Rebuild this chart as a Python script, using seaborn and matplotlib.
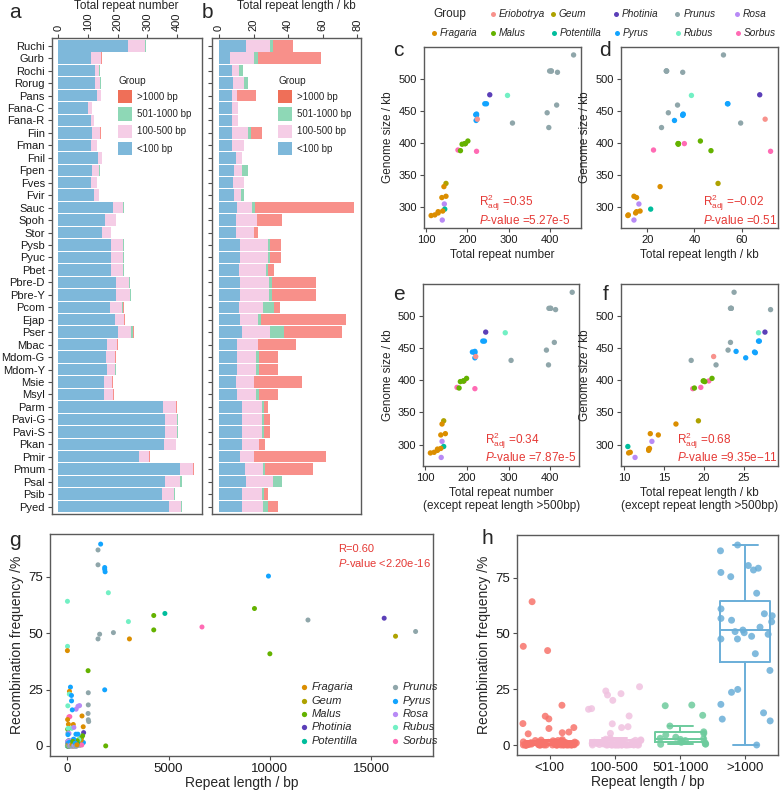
import numpy as np
import pandas as pd
import matplotlib
matplotlib.use('Agg')
import matplotlib.pyplot as plt
import seaborn as sns
from matplotlib.patches import Rectangle

# ---------------- data ----------------
species = ['Ruchi', 'Gurb', 'Rochi', 'Rorug', 'Pans', 'Fana-C', 'Fana-R', 'Fiin', 'Fman', 'Fnil',
           'Fpen', 'Fves', 'Fvir', 'Sauc', 'Spoh', 'Stor', 'Pysb', 'Pyuc', 'Pbet', 'Pbre-D',
           'Pbre-Y', 'Pcom', 'Ejap', 'Pser', 'Mbac', 'Mdom-G', 'Mdom-Y', 'Msie', 'Msyl', 'Parm',
           'Pavi-G', 'Pavi-S', 'Pkan', 'Pmir', 'Pmum', 'Psal', 'Psib', 'Pyed']
genus = ['Rubus', 'Geum', 'Rosa', 'Rosa', 'Potentilla'] + ['Fragaria'] * 8 + ['Sorbus'] * 3 + \
        ['Pyrus'] * 6 + ['Eriobotrya', 'Photinia'] + ['Malus'] * 5 + ['Prunus'] * 9

# repeat numbers per length class (panel a)
cnt_lt100 = [234, 110, 124, 124, 129, 101, 110, 112, 110, 133, 112, 110, 120, 185, 157, 147, 176, 176, 178, 193,
             196, 175, 191, 200, 164, 162, 163, 153, 154, 352, 358, 358, 357, 272, 409, 358, 348, 373]
cnt_100_500 = [58, 34, 14, 16, 15, 11, 11, 28, 19, 15, 25, 19, 17, 34, 36, 29, 43, 43, 41, 45,
               46, 38, 30, 45, 35, 29, 29, 28, 30, 45, 43, 43, 39, 34, 44, 52, 43, 40]
cnt_501_1000 = [2, 1, 1, 4, 0, 0, 0, 2, 0, 0, 3, 0, 1, 1, 0, 0, 1, 1, 1, 2,
                2, 6, 1, 8, 0, 1, 1, 0, 1, 1, 1, 1, 0, 0, 1, 6, 1, 3]
cnt_gt1000 = [3, 3, 0, 0, 1, 0, 0, 1, 0, 0, 0, 0, 0, 2, 1, 1, 2, 2, 1, 2,
              2, 1, 2, 1, 2, 2, 2, 2, 2, 1, 1, 1, 1, 3, 3, 0, 1, 2]
# repeat length (kb) per length class (panel b)
len_lt100 = [15.5, 6.6, 7.8, 8.2, 7.8, 7.4, 7.4, 7.8, 7.8, 9.7, 8.5, 8.0, 8.5, 10.5, 10.1, 10.1, 12.0, 12.0, 11.7, 12.4,
             12.4, 11.7, 12.0, 13.2, 10.3, 10.7, 10.7, 9.7, 10.7, 13.4, 13.6, 13.6, 13.2, 12.4, 14.8, 15.5, 13.4, 13.4]
len_100_500 = [14.0, 13.6, 3.9, 6.2, 2.9, 3.5, 3.5, 8.9, 6.6, 3.9, 5.1, 6.4, 4.5, 8.9, 12.0, 10.1, 16.3, 16.3, 15.5, 16.3,
               16.3, 13.9, 10.7, 16.3, 12.4, 10.5, 10.5, 10.7, 10.5, 11.5, 11.3, 11.3, 9.9, 7.8, 10.6, 15.6, 11.5, 12.0]
len_501_1000 = [1.5, 2.5, 2.3, 2.3, 0.0, 0.0, 0.0, 1.7, 0.0, 0.0, 3.3, 0.0, 1.6, 1.6, 0.0, 0.0, 1.2, 1.2, 1.0, 2.2,
                1.8, 6.4, 1.6, 8.2, 0.0, 1.7, 1.7, 0.0, 1.7, 1.1, 0.9, 0.9, 0.0, 0.0, 1.2, 5.2, 1.1, 2.9]
len_gt1000 = [11.7, 36.1, 0.0, 0.0, 10.7, 0.0, 0.0, 6.6, 0.0, 0.0, 0.0, 0.0, 0.0, 57.0, 14.2, 2.5, 6.2, 6.2, 3.8, 25.4,
              25.8, 3.5, 49.3, 33.6, 22.0, 11.5, 11.5, 27.9, 11.3, 2.3, 3.5, 3.5, 3.7, 41.9, 27.8, 0.0, 2.3, 6.1]

# genome sizes and scatter x values for panels d and f
genome_kb = [474, 337, 280, 305, 297, 287, 288, 332, 293, 317, 294, 291, 315, 387, 399, 389, 445, 443, 435, 461,
             461, 444, 437, 475, 403, 399, 399, 388, 398, 512, 512, 512, 424, 431, 537, 459, 447, 510]
d_total_kb = [38.7, 50.0, 14.3, 16.4, 21.4, 11.7, 11.9, 25.4, 15.4, 14.3, 16.9, 15.0, 15.4, 72.3, 35.7, 22.6, 35.2, 35.0, 31.5, 54.0,
              54.2, 35.1, 70.0, 67.7, 42.5, 33.0, 33.2, 47.0, 33.1, 28.0, 28.1, 28.2, 26.0, 59.6, 52.3, 32.8, 28.9, 35.0]
f_le500_kb = [26.8, 19.3, 11.4, 13.5, 10.5, 10.6, 10.8, 16.5, 13.1, 13.3, 13.2, 13.1, 14.3, 18.6, 20.6, 19.6, 24.0, 26.4, 25.2, 26.8,
              26.9, 26.3, 21.2, 27.6, 21.0, 19.9, 20.0, 18.8, 20.1, 23.3, 23.4, 23.4, 21.5, 18.4, 23.75, 23.3, 23.0, 28.3]

stats_text = {'c': ('0.35', '5.27e-5'), 'd': ('\u22120.02', '0.51'),
              'e': ('0.34', '7.87e-5'), 'f': ('0.68', '9.35e\u221211')}

# individual repeats (panels g, h): (length bp, recombination %, genus)
rep_gt1000 = [(1650, 89.6, 'Pyrus'), (1520, 87.0, 'Prunus'), (1520, 80.4, 'Prunus'), (1850, 79.2, 'Pyrus'),
              (1850, 78.4, 'Pyrus'), (1870, 77.3, 'Pyrus'), (9930, 75.4, 'Pyrus'), (2030, 68.0, 'Rubus'),
              (9240, 61.0, 'Malus'), (4820, 58.8, 'Potentilla'), (4270, 57.9, 'Malus'), (11880, 55.9, 'Prunus'),
              (15640, 56.7, 'Photinia'), (3020, 55.2, 'Rubus'), (6650, 52.8, 'Sorbus'), (4270, 51.5, 'Malus'),
              (2280, 50.3, 'Prunus'), (1600, 49.6, 'Prunus'), (1520, 47.5, 'Prunus'), (3070, 47.5, 'Fragaria'),
              (16200, 48.7, 'Geum'), (17190, 50.8, 'Prunus'), (10000, 40.9, 'Malus'), (1030, 33.4, 'Malus'),
              (1850, 24.9, 'Pyrus'), (1040, 23.6, 'Prunus'), (1040, 18.2, 'Prunus'), (1030, 14.4, 'Prunus'),
              (1040, 11.6, 'Prunus'), (1060, 10.8, 'Prunus'), (1900, 0.0, 'Malus')]
rep_501_1000 = [(730, 13.3, 'Fragaria'), (790, 8.5, 'Fragaria'), (810, 5.9, 'Photinia'), (760, 4.5, 'Malus'),
                (700, 3.5, 'Malus'), (650, 0.5, 'Fragaria'), (560, 2.0, 'Rosa'), (530, 5.2, 'Pyrus'),
                (800, 1.5, 'Pyrus'), (530, 17.6, 'Rosa'), (610, 17.9, 'Rosa'), (600, 1.2, 'Rosa'),
                (690, 2.5, 'Fragaria'), (610, 3.0, 'Malus'), (620, 0.3, 'Prunus'), (580, 2.8, 'Rubus'),
                (530, 1.0, 'Potentilla'), (720, 0.4, 'Sorbus')]
rep_100_500_hi = [(160, 26.1, 'Pyrus'), (110, 24.2, 'Fragaria'), (105, 23.0, 'Rubus'), (210, 22.4, 'Pyrus'),
                  (215, 20.0, 'Pyrus'), (440, 16.3, 'Rosa'), (250, 16.0, 'Pyrus'), (130, 13.0, 'Sorbus'),
                  (300, 9.5, 'Fragaria'), (220, 7.8, 'Rubus'), (330, 8.2, 'Rosa'), (430, 5.2, 'Pyrus')]
rep_lt100_hi = [(12, 64.2, 'Rubus'), (15, 44.2, 'Rubus'), (10, 42.3, 'Fragaria'), (30, 17.8, 'Rubus'),
                (83, 12.9, 'Sorbus'), (20, 11.7, 'Fragaria'), (60, 9.6, 'Fragaria'), (25, 7.4, 'Malus'),
                (50, 7.8, 'Rubus'), (40, 5.8, 'Prunus'), (90, 5.5, 'Rosa'), (35, 5.0, 'Pyrus')]
lt100_low_len = [12, 18, 22, 27, 32, 38, 42, 48, 52, 58,
                 62, 68, 72, 78, 82, 88, 92, 98, 14, 24,
                 34, 44, 54, 64, 74, 84, 94, 16, 26, 36,
                 46, 56, 66, 76, 86, 96, 19, 29, 39, 49,
                 59, 69, 79, 89, 11, 21, 31, 41, 51, 61,
                 71, 81, 91, 13, 23, 33, 43, 53, 63, 73]
lt100_low_freq = [0.0, 0.3, 0.8, 0.0, 1.4, 0.2, 0.0, 1.0, 0.5, 0.0,
                  2.2, 0.1, 0.6, 0.0, 1.8, 0.3, 0.0, 1.2, 0.4, 0.0,
                  0.6, 1.5, 0.0, 0.1, 0.9, 0.0, 2.0, 0.3, 0.0, 0.7,
                  0.1, 1.3, 0.0, 0.5, 1.1, 0.0, 0.2, 1.9, 0.0, 0.8,
                  0.4, 0.0, 2.4, 0.6, 0.0, 1.1, 0.1, 0.0, 1.6, 0.3,
                  0.0, 0.7, 0.1, 0.0, 2.0, 0.3, 0.0, 1.3, 0.5, 0.0]
lt100_low_gen = ('Pr Fr Py Ro Pr Ma Ru Fr Pr Py '
                 'Ro Pr Fr Po Ma Pr Py Ro Fr Pr '
                 'So Ru Pr Fr Py Ge Pr Ro Ma Pr '
                 'Fr Py Pr Ro Ru Pr Fr Ma Py Pr '
                 'Ro Fr Pr So Py Pr Ma Fr Ro Pr '
                 'Py Fr Pr Ru Ro Pr Ma Py Fr Pr').split()
mid_low_len = [105, 120, 135, 150, 165, 180, 195, 210, 225, 240,
               255, 270, 285, 300, 315, 330, 345, 360, 375, 390,
               405, 420, 435, 450, 465, 480, 495, 110, 140, 170,
               200, 230, 260, 290, 320, 350, 380, 410, 440, 470,
               125, 155, 185, 245, 275, 305, 365, 395, 425, 485]
mid_low_freq = [0.0, 0.7, 0.2, 1.5, 0.0, 2.1, 0.5, 0.0, 1.0, 0.1,
                2.6, 0.0, 0.6, 1.3, 0.3, 0.0, 1.8, 0.2, 0.0, 1.1,
                0.4, 0.0, 1.7, 0.7, 0.0, 0.1, 2.3, 0.0, 0.9, 0.4,
                0.0, 1.2, 0.1, 0.0, 3.0, 0.5, 0.0, 0.9, 0.2, 0.0,
                1.6, 0.3, 0.0, 0.7, 2.0, 0.0, 0.2, 1.2, 0.0, 0.5]
mid_low_gen = ('Pr Ro Fr Py Pr Ro Ma Pr Fr Py '
               'Ro Pr Ru Fr Pr Ro Py Pr Ma Fr '
               'Ro Pr Py Fr Pr Ro Ma Pr Fr Py '
               'Ro Pr So Fr Py Pr Ro Ma Fr Pr '
               'Py Ro Pr Fr Ma Pr Ro Py Pr Fr').split()
gen_code = {'Pr': 'Prunus', 'Fr': 'Fragaria', 'Py': 'Pyrus', 'Ro': 'Rosa', 'Ma': 'Malus', 'Ru': 'Rubus',
            'Po': 'Potentilla', 'So': 'Sorbus', 'Ge': 'Geum', 'Ph': 'Photinia'}
len_classes = ['<100', '100-500', '501-1000', '>1000']

# ---------------- styles ----------------
GEN_COL = {'Eriobotrya': '#F8928C', 'Fragaria': '#DB8E00', 'Geum': '#AEA200', 'Malus': '#64B200',
           'Photinia': '#5B3FB8', 'Potentilla': '#00BD9C', 'Prunus': '#8FA6AA', 'Pyrus': '#12A4FF',
           'Rosa': '#B88AF6', 'Rubus': '#72F0C4', 'Sorbus': '#FF6BB4'}
BLUE, PINK, GREEN, RED = '#7EB8DA', '#F5CDE6', '#8FD5B5', '#F8908A'
LEG_COL = ['#EF6F58', '#8ED8B6', '#F5CDE6', '#7EB8DA']
H_COL = {'<100': '#F7736B', '100-500': '#F0C2E0', '501-1000': '#6DCB9D', '>1000': '#6AAED8'}
TXT_RED = '#E53935'

sns.set_theme(style='ticks')
plt.rcParams['font.family'] = ['Liberation Sans', 'DejaVu Sans']
plt.rcParams['mathtext.fontset'] = 'custom'
plt.rcParams['mathtext.rm'] = 'Liberation Sans'
plt.rcParams['mathtext.it'] = 'Liberation Sans:italic'
plt.rcParams['mathtext.bf'] = 'Liberation Sans:bold'

W, H = 780, 791
fig = plt.figure(figsize=(W / 100, H / 100), dpi=100)
fig.patch.set_facecolor('white')


def add_ax(l, t, r, b):
    return fig.add_axes([l / W, 1 - b / H, (r - l) / W, (b - t) / H])


def frame(ax, ls=8):
    for s in ax.spines.values():
        s.set_visible(True)
        s.set_color('#5a5a5a')
        s.set_linewidth(1.0)
    ax.tick_params(length=3, width=0.8, color='#4d4d4d', pad=2, labelsize=ls, labelcolor='#1a1a1a')
    ax.grid(False)


# ---------------- panels a, b ----------------
cA = np.array(cnt_lt100)
cB = cA + np.array(cnt_100_500)
cC = cB + np.array(cnt_501_1000)
cD = cC + np.array(cnt_gt1000)
lA = np.array(len_lt100)
lB = lA + np.array(len_100_500)
lC = lB + np.array(len_501_1000)
lD = lC + np.array(len_gt1000)

axA = add_ax(51.7, 38.3, 201.7, 514)
axB = add_ax(211.7, 38.3, 361, 514)
for ax, cums in [(axA, (cD, cC, cB, cA)), (axB, (lD, lC, lB, lA))]:
    for vals, col in zip(cums, [RED, GREEN, PINK, BLUE]):
        sns.barplot(x=list(vals), y=species, orient='h', color=col, saturation=1, width=0.92,
                    errorbar=None, linewidth=0, ax=ax)
    frame(ax)
    ax.set_ylim(len(species) - 0.4, -0.6)
    ax.xaxis.tick_top()
    ax.tick_params(axis='x', top=True, bottom=False, labeltop=True, labelbottom=False, labelrotation=90)
    ax.set_xlabel('')
    ax.set_ylabel('')
axA.set_xlim(-22, 483)
axA.set_xticks([0, 100, 200, 300, 400])
axB.set_xlim(-4.2, 82.2)
axB.set_xticks([0, 20, 40, 60, 80])
axB.set_yticklabels([])

# ---------------- panels c-f ----------------
sp = pd.DataFrame({'species': species, 'genus': genus, 'genome': genome_kb,
                   'c_x': cD, 'd_x': d_total_kb, 'e_x': cB, 'f_x': f_le500_kb})
boxes = {'c': (424, 46.7, 580.7, 228.3), 'd': (620.7, 46.7, 777.7, 228.3),
         'e': (423.3, 284, 579.3, 465.7), 'f': (620.7, 284, 777.7, 465.7)}
xlabels = {'c': 'Total repeat number', 'd': 'Total repeat length / kb',
           'e': 'Total repeat number\n(except repeat length >500bp)',
           'f': 'Total repeat length / kb\n(except repeat length >500bp)'}
xticks = {'c': [100, 200, 300, 400], 'd': [20, 40, 60], 'e': [100, 200, 300, 400], 'f': [10, 15, 20, 25]}
for key, bx in boxes.items():
    ax = add_ax(*bx)
    sns.scatterplot(data=sp, x=key + '_x', y='genome', hue='genus', palette=GEN_COL, s=15,
                    linewidth=0, legend=False, ax=ax)
    frame(ax)
    ax.set_xticks(xticks[key])
    ax.set_yticks([300, 350, 400, 450, 500])
    ax.set_xlabel(xlabels[key], fontsize=8.5, linespacing=1.15, labelpad=3)
    ax.set_ylabel('Genome size / kb', fontsize=8.5, labelpad=3)

# ---------------- panel g ----------------
rows = []
for cat, lst in [('>1000', rep_gt1000), ('501-1000', rep_501_1000), ('100-500', rep_100_500_hi), ('<100', rep_lt100_hi)]:
    for L, fq, g in lst:
        rows.append((L, fq, g, cat))
for L, fq, g in zip(lt100_low_len, lt100_low_freq, lt100_low_gen):
    rows.append((L, fq, gen_code[g], '<100'))
for L, fq, g in zip(mid_low_len, mid_low_freq, mid_low_gen):
    rows.append((L, fq, gen_code[g], '100-500'))
rep = pd.DataFrame(rows, columns=['length', 'freq', 'genus', 'cls'])

axG = add_ax(50, 534, 433, 756)
sns.scatterplot(data=rep, x='length', y='freq', hue='genus', palette=GEN_COL, s=13, linewidth=0,
                legend=False, ax=axG)
frame(axG, ls=9.5)
axG.set_xticks([0, 5000, 10000, 15000])
axG.set_yticks([0, 25, 50, 75])
axG.set_xlabel('Repeat length / bp', fontsize=10, labelpad=1)
axG.set_ylabel('Recombination frequency /%', fontsize=10, labelpad=3)

# ---------------- panel h ----------------
axH = add_ax(517, 535, 778, 755)
np.random.seed(11)
sns.boxplot(data=rep, x='cls', y='freq', hue='cls', order=len_classes, hue_order=len_classes,
            palette=H_COL, fill=False, width=0.77, showfliers=False, linewidth=1.4, legend=False, ax=axH)
sns.stripplot(data=rep, x='cls', y='freq', hue='cls', order=len_classes, hue_order=len_classes,
              palette=H_COL, jitter=0.42, size=5.0, alpha=0.85, linewidth=0, legend=False, ax=axH)
frame(axH, ls=9.5)
axH.set_yticks([0, 25, 50, 75])
axH.set_xlabel('Repeat length / bp', fontsize=10, labelpad=1)
axH.set_ylabel('Recombination frequency /%', fontsize=10, labelpad=3)

# ---------------- overlay: letters, legends, annotations ----------------
ov = fig.add_axes([0, 0, 1, 1], zorder=10)
ov.set_xlim(0, W)
ov.set_ylim(H, 0)
ov.axis('off')
ov.patch.set_alpha(0)

for lab, (x, y) in {'a': (14.7, 12), 'b': (207.7, 12), 'c': (398, 51), 'd': (605, 51), 'e': (399, 295),
                    'f': (606, 295), 'g': (15, 540), 'h': (487, 539)}.items():
    ov.text(x, y, lab, fontsize=15, ha='center', va='center')

ov.text(126.7, 6, 'Total repeat number', fontsize=8.5, ha='center', va='center')
ov.text(296, 6, 'Total repeat length / kb', fontsize=8.5, ha='center', va='center')

# legends of a and b
leg_labels = ['>1000 bp', '501-1000 bp', '100-500 bp', '<100 bp']
for x0 in (118.3, 278.3):
    ov.text(x0, 80.7, 'Group', fontsize=7.2, ha='left', va='center')
    for yc, col, lab in zip([96.7, 114, 131.3, 148.7], LEG_COL, leg_labels):
        ov.add_patch(Rectangle((x0, yc - 6.6), 14, 13.2, facecolor=col, edgecolor='none'))
        ov.text(x0 + 19, yc, lab, fontsize=7, ha='left', va='center')

# genus legend for c-f
ov.text(433, 14, 'Group', fontsize=8.5, ha='left', va='center')
row1 = [('Eriobotrya', 492.7), ('Geum', 552.7), ('Photinia', 616), ('Prunus', 677.3), ('Rosa', 737)]
row2 = [('Fragaria', 434), ('Malus', 493), ('Potentilla', 554), ('Pyrus', 616.7), ('Rubus', 677.7), ('Sorbus', 737.7)]
for yc, rowl in [(14, row1), (32.7, row2)]:
    for g, xm in rowl:
        ov.plot([xm], [yc], 'o', ms=3.6, color=GEN_COL[g], mec='none')
        ov.text(xm + 6, yc, g, fontsize=7.3, style='italic', ha='left', va='center')

# genus legend for g
gcols = [['Fragaria', 'Geum', 'Malus', 'Photinia', 'Potentilla'], ['Prunus', 'Pyrus', 'Rosa', 'Rubus', 'Sorbus']]
for xm, names in zip([304, 395], gcols):
    for yc, g in zip([687.3, 701, 714.3, 727.3, 740.7], names):
        ov.plot([xm], [yc], 'o', ms=3.8, color=GEN_COL[g], mec='none')
        ov.text(xm + 7.5, yc, g, fontsize=8, style='italic', ha='left', va='center')

# statistics
stat_pos = {'c': (479, 203, 220), 'd': (703, 203, 220), 'e': (485, 441, 457.5), 'f': (677, 441, 457.5)}
for key, (x0, y1, y2) in stat_pos.items():
    r2, pv = stats_text[key]
    ov.text(x0, y1, r'R$^{2}_{\mathrm{adj}}$ =' + r2, fontsize=8.5, color=TXT_RED, ha='left', va='center')
    ov.text(x0, y2, r'$P$-value =' + pv, fontsize=8.5, color=TXT_RED, ha='left', va='center')
ov.text(338, 549, 'R=0.60', fontsize=8, color=TXT_RED, ha='left', va='center')
ov.text(338, 563, r'$P$-value <2.20e-16', fontsize=8, color=TXT_RED, ha='left', va='center')

fig.savefig('out.png', dpi=100)
